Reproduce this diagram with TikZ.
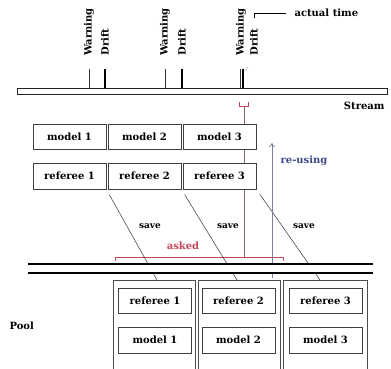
\documentclass[tikz,border=0pt]{standalone}
\usepackage{fontspec}
\setmainfont{DejaVu Serif}
\usetikzlibrary{arrows.meta}
\definecolor{askred}{RGB}{196,70,86}
\definecolor{stemred}{RGB}{140,100,100}
\definecolor{reuseblue}{RGB}{62,72,140}
\definecolor{reusegray}{RGB}{120,126,160}
\begin{document}
\begin{tikzpicture}[x=1pt,y=-1pt,
  font=\bfseries\fontsize{10}{12}\selectfont,
  box/.style={draw=black!75,fill=white,line width=0.8pt,inner sep=0pt,minimum width=73pt,minimum height=25pt},
  savelbl/.style={font=\bfseries\fontsize{9}{10}\selectfont}]
  \useasboundingbox (0,0) rectangle (391,369);
  % stream
  \node[draw=black!85,line width=0.8pt,minimum width=370pt,minimum height=6pt,inner sep=0pt] (stream) at (202,91) {};
  \node[anchor=east] (streamlbl) at (388,106) {Stream};
  \foreach \w/\d in {89/105,165/182,240/243}{
    \draw[black!80,line width=0.6pt] (\w,69) -- (\w,88); % warning
    \draw[black,line width=1.2pt] (\d,69) -- (\d,88); % drift
  }
  \node[rotate=90,anchor=west] (warn1) at (89,59) {Warning};
  \node[rotate=90,anchor=west] (drift1) at (105,59) {Drift};
  \node[rotate=90,anchor=west] (warn2) at (165,59) {Warning};
  \node[rotate=90,anchor=west] (drift2) at (182,59) {Drift};
  \node[rotate=90,anchor=west] (warn3) at (241,59) {Warning};
  \node[rotate=90,anchor=west] (drift3) at (254,59) {Drift};
  \draw[black!35,line width=0.4pt] (248,67) -- (245,71);
  % actual time
  \draw[line width=0.7pt] (254,18) |- (286,13);
  \node[anchor=west] (actual) at (291,12.5) {actual time};
  % asked
  \draw[askred,line width=0.6pt] (239,102) |- (248,106) -- (248,102);
  \draw[stemred,line width=0.6pt] (244,106) -- (244,257);
  \draw[askred,line width=0.8pt] (115,261) |- (283,257) -- (283,261);
  \node[text=askred] (asked) at (183,246) {asked};
  % models and referees
  \foreach \i/\x in {1/69.5,2/144.5,3/219.5}{
    \node[box] (m\i) at (\x,136.5) {model \i};
    \node[box,minimum height=26pt] (r\i) at (\x,176) {referee \i};
  }
  % save
  \coordinate (s1) at (157,280);
  \coordinate (s2) at (237,280);
  \coordinate (s3) at (320,280);
  \foreach \i in {1,2,3}{
    \draw[black!80,line width=0.5pt,shorten <=6pt] (r\i.south east) -- (s\i);
  }
  \node[savelbl] (save1) at (150,226) {save};
  \node[savelbl] (save2) at (228,226) {save};
  \node[savelbl] (save3) at (304,226) {save};
  % re-using
  \coordinate (reuse) at (272,278);
  \draw[reusegray,line width=0.7pt,-{To[length=4pt,width=6pt]}] (reuse) -- (272,143);
  \node[text=reuseblue] (reuselbl) at (304,161) {re-using};
  % pipe
  \fill[white] (28,264) rectangle (373,273);
  \draw[black,line width=1.5pt] (28,264) -- (373,264);
  \draw[black,line width=1.5pt] (28,273) -- (373,273);
  % pool
  \node[anchor=west] (pool) at (6,326) {Pool};
  \draw[black!70,line width=0.8pt] (113,369) |- (195,280) -- (195,369);
  \draw[black!70,line width=0.8pt] (198,369) |- (280,280) -- (280,369);
  \draw[black!70,line width=0.8pt] (283,369) |- (367,280) -- (367,369);
  \foreach \i/\x in {1/155,2/238.5,3/325.5}{
    \node[box] (pr\i) at (\x,300.5) {referee \i};
    \node[box,minimum height=26pt] (pm\i) at (\x,340) {model \i};
  }
\end{tikzpicture}
\end{document}
